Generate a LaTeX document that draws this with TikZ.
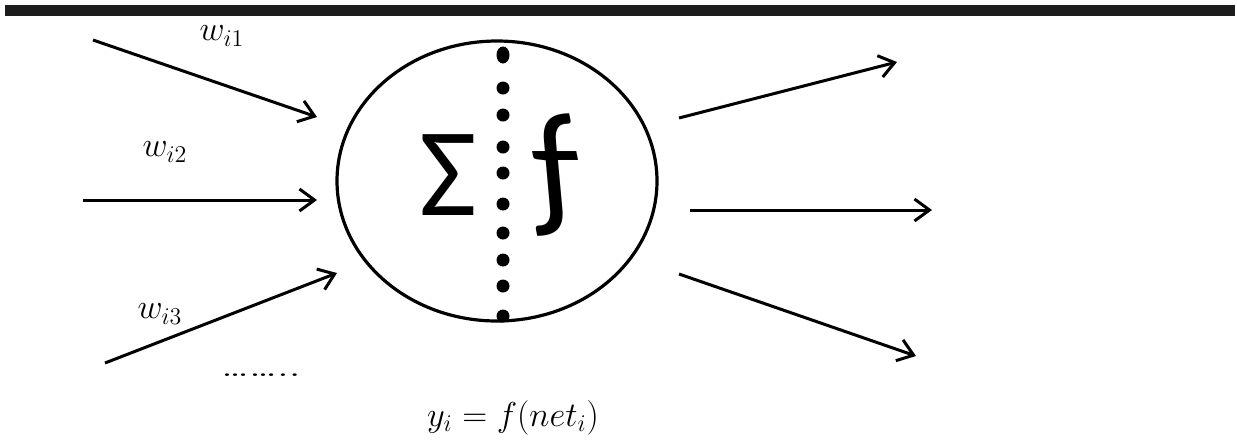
\documentclass[tikz,border=0pt]{standalone}
\usepackage{fontspec}
\newfontfamily\calib{Carlito}
\usetikzlibrary{arrows.meta,shapes.geometric}
\tikzset{
  conn/.style={line width=1.5pt, -{Straight Barb[length=7.5pt,width=11pt,line width=1.5pt]}},
  lbl/.style={inner sep=0pt, font=\fontsize{17}{20}\selectfont},
  dotm/.style={fill=black, draw=none},
  bigsym/.style={anchor=base, inner sep=0pt, font=\calib\fontsize{63}{70}\selectfont},
}
\begin{document}
\begin{tikzpicture}[x=0.5pt, y=-0.5pt]
\useasboundingbox (0,0) rectangle (1237,441);
% top bar
\fill[black!89] (5,5) rectangle (1235,16);
% neuron
\node[draw, line width=1.6pt, ellipse, minimum width=160pt, minimum height=140pt, inner sep=0pt] (neuron) at (497,181) {};
% dots
\fill[dotm] (503,55) ellipse [x radius=6.5, y radius=8.5];
\foreach \yy in {88,115,147,173,204,233,260,286,316}
  \fill[dotm] (503,\yy) circle [radius=6.5];
\node[bigsym] (sig) at (448.5,215) {Σ};
\node[bigsym, font=\calib\fontsize{72}{80}\selectfont, xslant=-0.2, transform shape] (fun) at (562,212) {ƒ};
% inputs
\coordinate (i1s) at (93,40);   \coordinate (i1e) at (317,117);
\coordinate (i2s) at (83,200);  \coordinate (i2e) at (317,200);
\coordinate (i3s) at (105,363); \coordinate (i3e) at (337,273);
\draw[conn] (i1s) -- (i1e);
\draw[conn] (i2s) -- (i2e);
\draw[conn] (i3s) -- (i3e);
% outputs
\coordinate (o1s) at (679,118); \coordinate (o1e) at (897,62);
\coordinate (o2s) at (690,210); \coordinate (o2e) at (932,210);
\coordinate (o3s) at (679,274); \coordinate (o3e) at (916,356);
\draw[conn] (o1s) -- (o1e);
\draw[conn] (o2s) -- (o2e);
\draw[conn] (o3s) -- (o3e);
% labels
\node[lbl] (w1) at (222,36) {$w_{i1}$};
\node[lbl] (w2) at (165,152) {$w_{i2}$};
\node[lbl] (w3) at (160,314) {$w_{i3}$};
\node[anchor=base, inner sep=0pt, xscale=1.55, transform shape, font=\fontsize{14}{16}\selectfont] (more) at (261,376) {……..};
\node[lbl] (out) at (513,418) {$y_i = f(net_i)$};
\end{tikzpicture}
\end{document}
